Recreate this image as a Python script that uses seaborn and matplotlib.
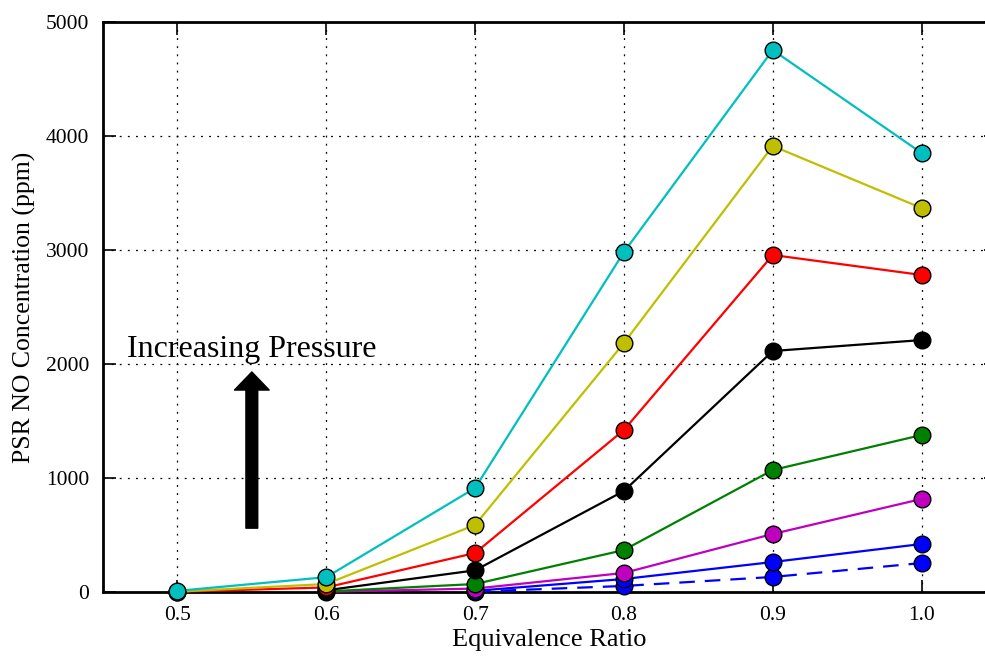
import matplotlib
matplotlib.use("Agg")
import matplotlib.pyplot as plt
import seaborn as sns
import pandas as pd

phi_all = [0.5, 0.6, 0.7, 0.8, 0.9, 1.0]
cyan_x = [0.5, 0.6, 0.7, 0.8, 0.9, 1.0]
cyan_y = [10, 130, 912, 2982, 4754, 3851]
yellow_x = [0.5, 0.6, 0.7, 0.8, 0.9, 1.0]
yellow_y = [3, 70, 588, 2184, 3912, 3368]
red_x = [0.5, 0.6, 0.7, 0.8, 0.9, 1.0]
red_y = [2, 40, 342, 1421, 2956, 2781]
black_x = [0.6, 0.7, 0.8, 0.9, 1.0]
black_y = [15, 190, 886, 2114, 2210]
green_x = [0.6, 0.7, 0.8, 0.9, 1.0]
green_y = [5, 70, 368, 1070, 1377]
magenta_x = [0.6, 0.7, 0.8, 0.9, 1.0]
magenta_y = [2, 30, 167, 509, 816]
blue_x = [0.7, 0.8, 0.9, 1.0]
blue_y = [10, 114, 263, 421]
bluedash_x = [0.7, 0.8, 0.9, 1.0]
bluedash_y = [3, 53, 132, 254]

series = [
    (cyan_x, cyan_y, "#00bfbf", "-"),
    (yellow_x, yellow_y, "#bfbf00", "-"),
    (red_x, red_y, "#ff0000", "-"),
    (black_x, black_y, "#000000", "-"),
    (green_x, green_y, "#008000", "-"),
    (magenta_x, magenta_y, "#bf00bf", "-"),
    (blue_x, blue_y, "#0000ff", "-"),
    (bluedash_x, bluedash_y, "#0000ff", "--"),
]

sns.set_style("ticks")
plt.rcParams["font.family"] = ["Liberation Serif", "DejaVu Serif"]
plt.rcParams["text.color"] = "black"
plt.rcParams["axes.labelcolor"] = "black"
plt.rcParams["xtick.color"] = "black"
plt.rcParams["ytick.color"] = "black"

fig = plt.figure(figsize=(9.85, 6.56), dpi=100)
ax = fig.add_axes([103 / 985, 1 - 592 / 656, (996 - 103) / 985, (592 - 22) / 656])

for i, (xs, ys, c, ls) in enumerate(reversed(series)):
    df = pd.DataFrame({"x": xs, "y": ys})
    sns.lineplot(data=df, x="x", y="y", ax=ax, color=c, linestyle=ls, linewidth=1.6,
                 marker="o", markersize=12, markerfacecolor=c, markeredgecolor="black",
                 markeredgewidth=1.0, zorder=3 + i, clip_on=False)
    if ls == "--":
        ax.lines[-1].set_dashes([7, 4.5])

ax.set_xlim(0.45, 1.05)
ax.set_ylim(0, 5000)
ax.set_xticks(phi_all)
ax.set_xticklabels([f"{v:.1f}" for v in phi_all])
ax.set_yticks([0, 1000, 2000, 3000, 4000, 5000])
ax.grid(True, color="black", linestyle=(0, (1.5, 5)), linewidth=0.9)
ax.set_axisbelow(True)
ax.tick_params(axis="both", which="major", direction="in", labelsize=15.5, length=9,
               width=1.2, top=True, right=True, color="black", labelcolor="black")
ax.tick_params(axis="x", pad=10)
ax.tick_params(axis="y", pad=10)
for s in ax.spines.values():
    s.set_linewidth(2)
    s.set_color("black")

ax.set_xlabel("Equivalence Ratio", fontsize=19, labelpad=3, color="black")
ax.set_ylabel("PSR NO Concentration (ppm)", fontsize=18.5, labelpad=7, color="black")

ax.annotate("", xy=(0.55, 1930), xytext=(0.55, 560),
            arrowprops=dict(facecolor="black", edgecolor="black", width=8.5, headwidth=25, headlength=13))
ax.text(0.55, 2061, "Increasing Pressure", fontsize=23, ha="center", va="baseline", color="black")

fig.savefig("out.png", dpi=100)
